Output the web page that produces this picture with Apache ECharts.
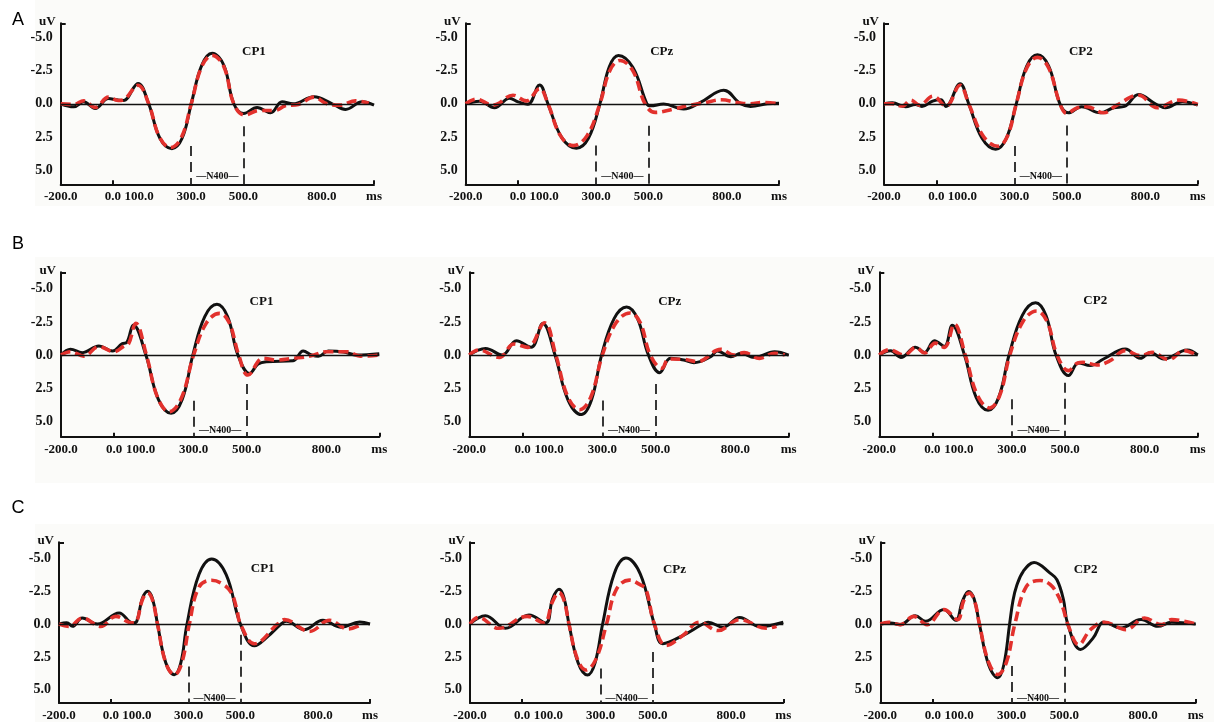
<!DOCTYPE html>
<html><head><meta charset="utf-8">
<script src="https://cdn.jsdelivr.net/npm/echarts@6/dist/echarts.min.js"></script>
<style>html,body{margin:0;padding:0;background:#fff}#c{width:1214px;height:722px}</style>
</head><body><div id="c"></div>
<script>
// ---- data (time in ms, amplitude in uV) ----
const channels = ['CP1','CPz','CP2','CP1','CPz','CP2','CP1','CPz','CP2'];
const rowLetters = ['A','B','C'];
const xTickLabels = [-200,0,100,300,500,800,1000];
const yTickLabels = [-5,-2.5,0,2.5,5];
const n400Window = [300,500];
const n400Top300 = [3.18,3.15,3.18,3.45,3.43,3.35,3.22,3.38,3.2];
const n400Top500 = [1.69,1.65,1.63,2.19,2.18,2.1,0.81,2.13,0.81];
const channelLabelPos = [[540,-3.94],[551,-3.93],[553,-3.95],[556,-4.03],[553,-4.05],[614,-4.08],[586,-4.2],[583,-4.1],[581,-4.1]];
const n400LabelY = [5.5,5.5,5.5,5.7,5.7,5.7,5.65,5.65,5.65];

const a1Black = [[-200,0],[-150,0.23],[-112,-0.15],[-68,0.35],[-17,-0.4],[15,-0.3],[40,-0.25],[96,-1.54],[137,0],[180,2.6],[226,3.38],[265,2.6],[300,0],[340,-2.9],[380,-3.81],[425,-2.9],[463,0],[501,0.73],[552,0.28],[604,0.68],[648,-0.15],[690,0],[770,-0.53],[840,0],[891,0.43],[955,-0.15],[1000,0.1]];
const a1Red = [[-200,0],[-150,0.05],[-112,-0.23],[-68,0.28],[-17,-0.5],[20,-0.25],[40,-0.3],[96,-1.4],[137,0],[178,2.5],[220,3.3],[262,2.55],[300,0],[340,-2.8],[380,-3.65],[425,-2.8],[463,0],[505,0.85],[560,0.5],[620,0.5],[660,0.15],[710,0.05],[770,-0.5],[820,0],[870,0.1],[930,-0.22],[980,-0.05]];
const a2Black = [[-200,0],[-147,-0.2],[-90,0.3],[-32,-0.42],[0,-0.15],[38,0.03],[83,-1.42],[115,0],[168,2.55],[224,3.35],[270,2.6],[314,0],[350,-2.8],[385,-3.65],[440,-2.75],[494,0],[508,0.15],[558,0.02],[635,0.4],[699,-0.1],[788,-1.02],[853,0],[891,0.2],[955,0],[1000,-0.05]];
const a2Red = [[-200,0],[-160,-0.35],[-96,0.1],[-19,-0.65],[32,-0.22],[83,-1.15],[115,0],[163,2.4],[212,3.15],[265,2.4],[314,0],[352,-2.5],[391,-3.27],[440,-2.5],[487,0],[526,0.65],[596,0.4],[650,0.15],[720,-0.1],[780,-0.3],[840,-0.1],[890,0],[940,-0.1],[1000,0]];
const a3Black = [[-200,0],[-168,-0.07],[-117,0.22],[-80,0.05],[-55,0.2],[-14,-0.2],[18,-0.3],[37,0.2],[91,-1.52],[124,0],[175,2.6],[227,3.42],[268,2.6],[306,0],[346,-2.85],[387,-3.7],[430,-2.85],[473,0],[505,0.68],[556,0.22],[627,0.68],[678,0.3],[720,0.2],[774,-0.7],[838,0],[877,0.3],[941,-0.15],[1000,0.1]];
const a3Red = [[-200,0],[-170,0],[-130,0.17],[-97,-0.28],[-65,0.1],[-12,-0.57],[37,0.17],[91,-1.4],[124,0],[180,2.45],[236,3.2],[272,2.45],[306,0],[346,-2.7],[387,-3.5],[430,-2.7],[473,0],[499,0.72],[540,0.3],[576,0.22],[640,0.68],[691,0.1],[774,-0.65],[845,0.3],[928,-0.28],[1000,0.05]];
const b1Black = [[-200,0],[-164,-0.43],[-120,-0.18],[-57,-0.68],[-6,-0.3],[30,-0.85],[48,-0.95],[73,-2.27],[120,0],[167,3.35],[215,4.4],[257,3.35],[297,0],[342,-2.9],[388,-3.83],[428,-2.9],[467,0],[511,1.39],[543,0.68],[574,0.5],[675,0.43],[713,-0.3],[745,0],[770,0.1],[808,-0.3],[865,-0.23],[915,0],[1000,-0.1]];
const b1Red = [[-200,0],[-164,-0.25],[-114,0.08],[-57,-0.63],[0,-0.25],[38,-0.68],[55,-0.85],[82,-2.39],[122,0],[165,3.25],[208,4.28],[254,3.25],[300,0],[349,-2.45],[398,-3.15],[434,-2.45],[470,0],[505,1.51],[562,0.25],[612,0.38],[675,0.25],[739,0.08],[802,-0.25],[877,-0.25],[928,0.08],[1000,0]];
const b2Black = [[-200,0],[-139,-0.5],[-76,0],[-23,-1.08],[32,-0.58],[76,-2.38],[122,0],[171,3.4],[221,4.5],[259,3.4],[297,0],[344,-2.75],[391,-3.63],[432,-2.75],[473,0],[515,1.33],[556,0.25],[606,0.38],[644,0.58],[707,0.13],[732,-0.3],[783,0.13],[821,-0.13],[871,0.18],[947,-0.25],[1000,0]];
const b2Red = [[-200,0],[-164,-0.38],[-88,0.18],[-32,-0.83],[19,-0.58],[82,-2.43],[125,0],[170,3.15],[215,4.13],[257,3.15],[300,0],[352,-2.45],[404,-3.18],[442,-2.45],[480,0],[524,1.0],[549,0.3],[606,0.33],[657,0.5],[745,-0.43],[795,0],[833,-0.18],[890,0.25],[947,-0.13],[985,0]];
const b3Black = [[-200,0],[-157,-0.33],[-119,0.18],[-64,-0.58],[-30,-0.2],[8,-1.08],[45,-0.65],[75,-2.25],[121,0],[165,3.2],[210,4.18],[250,3.2],[289,0],[339,-3.0],[389,-3.95],[428,-3.0],[466,0],[513,1.55],[551,0.6],[595,0.8],[645,0.3],[727,-0.45],[784,0.25],[822,-0.2],[872,0.3],[961,-0.38],[1000,0]];
const b3Red = [[-200,0],[-163,-0.4],[-106,0],[-62,-0.58],[-30,-0.15],[11,-0.9],[45,-0.58],[83,-2.33],[124,0],[170,3.05],[216,4.0],[254,3.05],[292,0],[342,-2.55],[393,-3.33],[432,-2.55],[470,0],[513,1.18],[548,0.6],[568,0.55],[620,0.75],[670,0.43],[727,-0.33],[784,0.05],[828,-0.2],[891,0.35],[948,-0.33],[1000,0.05]];
const c1Black = [[-200,0],[-170,-0.1],[-148,0.18],[-110,-0.45],[-52,0],[32,-0.83],[84,-0.08],[100,-0.2],[121,-1.9],[142,-2.48],[161,-1.9],[180,0],[212,2.95],[245,3.85],[270,2.95],[294,0],[340,-3.75],[389,-4.94],[445,-3.75],[500,0],[554,1.65],[606,0.94],[657,0],[677,-0.2],[747,0.43],[818,-0.28],[889,0.25],[960,-0.15],[1000,0]];
const c1Red = [[-200,0],[-161,0.18],[-110,-0.45],[-39,0.18],[19,-0.58],[84,-0.08],[100,-0.2],[121,-1.8],[142,-2.35],[161,-1.8],[180,0],[212,2.95],[245,3.85],[274,2.95],[303,0],[340,-2.8],[389,-3.32],[430,-3.05],[464,-2.4],[485,-1.2],[500,0],[554,1.5],[644,0],[670,-0.33],[767,0.56],[844,-0.28],[915,0.38],[966,0.05]];
const c2Black = [[-200,0],[-141,-0.63],[-64,0.33],[26,-0.68],[90,-0.08],[116,-1.9],[141,-2.63],[160,-2.0],[179,0],[214,2.95],[250,3.88],[279,2.95],[308,0],[352,-3.8],[397,-5.0],[452,-3.8],[506,0],[538,1.5],[615,0.88],[692,0],[712,-0.13],[769,0.25],[833,-0.5],[910,0.2],[1000,-0.13]];
const c2Red = [[-200,0],[-167,-0.5],[-90,0.33],[19,-0.58],[83,-0.08],[116,-1.7],[141,-2.38],[160,-1.8],[179,0],[211,2.65],[244,3.5],[283,2.65],[323,0],[360,-2.6],[410,-3.33],[450,-3.0],[474,-2.63],[506,0],[551,1.63],[615,0.88],[679,-0.13],[750,0.5],[833,-0.33],[936,0.33],[974,0.18]];
const c3Black = [[-200,0],[-160,-0.08],[-124,0.05],[-67,-0.63],[-28,-0.2],[42,-1.09],[87,-0.28],[112,-1.7],[136,-2.47],[157,-1.9],[177,0],[212,3.1],[247,4.09],[270,3.1],[292,0],[305,-1.8],[318,-2.85],[344,-4.0],[385,-4.67],[446,-3.86],[472,-3.36],[497,-1.84],[513,0],[562,1.94],[610,1.06],[638,0],[651,-0.13],[715,0.3],[792,-0.33],[856,0.18],[908,-0.13],[1000,0]];
const c3Red = [[-200,0],[-169,-0.13],[-124,0.05],[-73,-0.58],[-22,0.05],[42,-1.09],[94,-0.33],[116,-1.7],[138,-2.35],[158,-1.8],[177,0],[212,2.9],[247,3.84],[280,2.9],[312,0],[356,-2.85],[408,-3.3],[446,-3.0],[478,-2.1],[497,-1.1],[513,0],[555,1.57],[600,0.43],[651,-0.13],[735,0.43],[805,-0.45],[870,0.05],[908,-0.33],[1000,0]];

const blackSeries = [a1Black,a2Black,a3Black,b1Black,b2Black,b3Black,c1Black,c2Black,c3Black];
const redSeries = [a1Red,a2Red,a3Red,b1Red,b2Red,b3Red,c1Red,c2Red,c3Red];

// ---- layout ----
const gridBoxes = [
  {left:60.7, top:23.3, width:313.3, height:161},
  {left:465.7, top:23.3, width:313.3, height:161},
  {left:884, top:23.3, width:313.7, height:161},
  {left:61, top:272.3, width:318.3, height:164.4},
  {left:469.3, top:272.3, width:319.4, height:164.4},
  {left:879.3, top:272.3, width:318.4, height:164.4},
  {left:59, top:542.3, width:311, height:161},
  {left:470, top:542.3, width:313.3, height:162},
  {left:880.3, top:542.3, width:315.4, height:161}
];
const rowYRange = [[-6.07,6.07],[-6.25,6.17],[-6.2,6.0]];
const FONT = '"Liberation Serif", "DejaVu Serif", serif';
const SMOOTH = 0.4;

const chart = echarts.init(document.getElementById('c'), null, {renderer:'canvas'});
const grid = [], xAxis = [], yAxis = [], series = [];
gridBoxes.forEach((g, i) => {
  const row = Math.floor(i/3);
  const [ymin, ymax] = rowYRange[row];
  grid.push(Object.assign({containLabel:false}, g));
  xAxis.push({
    type:'value', gridIndex:i, min:-200, max:1000,
    axisLine:{show:true, onZero:false, lineStyle:{color:'#111', width:2}},
    axisTick:{show:true, inside:true, length:4, customValues:[0,1000], lineStyle:{color:'#111', width:2}},
    axisLabel:{show:true, customValues:xTickLabels, margin:6, color:'#111', fontFamily:FONT, fontWeight:'bold', fontSize:13,
      formatter:(v)=> v===1000 ? 'ms' : v.toFixed(1)},
    splitLine:{show:false}
  });
  yAxis.push({
    type:'value', gridIndex:i, min:ymin, max:ymax, inverse:true,
    name:'uV', nameLocation:'start', nameGap:2,
    nameTextStyle:{color:'#111', fontFamily:FONT, fontWeight:'bold', fontSize:13, align:'right', verticalAlign:'middle', padding:[0,5,0,0]},
    axisLine:{show:true, onZero:false, lineStyle:{color:'#111', width:2}},
    axisTick:{show:true, inside:true, length:5, customValues:[ymin], lineStyle:{color:'#111', width:2}},
    axisLabel:{show:true, customValues:yTickLabels, margin:8, color:'#111', fontFamily:FONT, fontWeight:'bold', fontSize:14,
      formatter:(v)=> v.toFixed(1)},
    splitLine:{show:false}
  });
  series.push({
    type:'line', xAxisIndex:i, yAxisIndex:i, data:blackSeries[i], smooth:SMOOTH, symbol:'none',
    lineStyle:{color:'#111', width:3}, z:3, silent:true,
    markLine:{silent:true, symbol:'none', label:{show:false}, animation:false,
      data:[
        {yAxis:0, lineStyle:{color:'#111', width:1.3, type:'solid'}},
        [{coord:[n400Window[0], n400Top300[i]], lineStyle:{color:'#222', width:1.8, type:[10,6]}}, {coord:[n400Window[0], ymax]}],
        [{coord:[n400Window[1], n400Top500[i]], lineStyle:{color:'#222', width:1.8, type:[10,6]}}, {coord:[n400Window[1], ymax]}]
      ]},
    markPoint:{silent:true, symbol:'circle', symbolSize:0, animation:false,
      data:[
        {coord:channelLabelPos[i], label:{show:true, position:'inside', formatter:channels[i], color:'#111', fontFamily:FONT, fontWeight:'bold', fontSize:13}},
        {coord:[(n400Window[0]+n400Window[1])/2, n400LabelY[i]], label:{show:true, position:'inside', formatter:'\u2014N400\u2014', color:'#111', fontFamily:FONT, fontWeight:'bold', fontSize:10}}
      ]}
  });
  series.push({
    type:'line', xAxisIndex:i, yAxisIndex:i, data:redSeries[i], smooth:SMOOTH, symbol:'none',
    lineStyle:{color:'#e2312d', width:3.6, type:[10,5]}, z:4, silent:true
  });
});

const rowBg = [[35,0,1179,206],[35,257,1179,226],[35,524,1179,198]];
const rowLetterPos = [[18,20],[18,244],[18,508]];
const graphic = [];
rowBg.forEach(r => graphic.push({type:'rect', z:-10, silent:true, shape:{x:r[0], y:r[1], width:r[2], height:r[3]}, style:{fill:'#fbfbf9'}}));
rowLetters.forEach((t, i) => graphic.push({type:'text', z:10, x:rowLetterPos[i][0], y:rowLetterPos[i][1],
  style:{text:t, font:'18px "Liberation Sans", Arial, sans-serif', fill:'#000', textAlign:'center', textVerticalAlign:'middle'}}));

chart.setOption({animation:false, backgroundColor:'#ffffff', grid, xAxis, yAxis, series, graphic});
</script></body></html>
